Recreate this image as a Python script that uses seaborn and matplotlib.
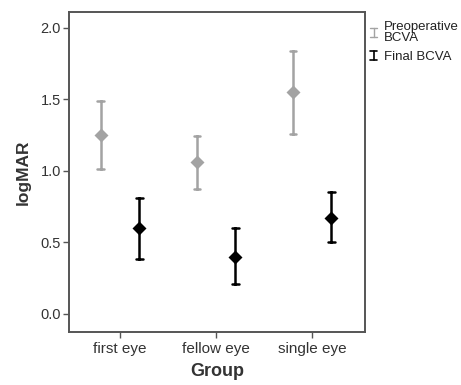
import numpy as np
import pandas as pd
import matplotlib
matplotlib.use("Agg")
import matplotlib.pyplot as plt
import seaborn as sns
from matplotlib.legend_handler import HandlerBase
from matplotlib.lines import Line2D

groups = ["first eye", "fellow eye", "single eye"]
series = ["Preoperative\nBCVA", "Final BCVA"]
pre_mean = [1.25, 1.06, 1.55]
pre_lo = [1.01, 0.87, 1.26]
pre_hi = [1.49, 1.24, 1.84]
fin_mean = [0.60, 0.40, 0.67]
fin_lo = [0.38, 0.21, 0.50]
fin_hi = [0.81, 0.60, 0.85]
yticks = [0.0, 0.5, 1.0, 1.5, 2.0]

rows = []
for s, (m, lo, hi) in zip(series, [(pre_mean, pre_lo, pre_hi), (fin_mean, fin_lo, fin_hi)]):
    for g, a, b, c in zip(groups, lo, m, hi):
        for v in (a, b, c):
            rows.append({"Group": g, "Series": s, "logMAR": v})
df = pd.DataFrame(rows)

sns.set_style("white")
plt.rcParams["font.family"] = ["Liberation Sans", "DejaVu Sans"]

fig = plt.figure(figsize=(4.61, 3.85), dpi=100)
ax = fig.add_axes([0.150, 0.138, 0.642, 0.831])

colors = ["#a3a3a3", "#000000"]
sns.pointplot(data=df, x="Group", y="logMAR", hue="Series", order=groups,
              hue_order=series, estimator="median", errorbar=("pi", 100),
              palette=colors, markers=["D", "D"], linestyle="none",
              dodge=0.4, capsize=0.07, markersize=5,
              err_kws={"linewidth": 1.8}, legend=False, ax=ax)

ax.set_xlim(-0.53, 2.55)
ax.set_ylim(-0.126, 2.11)
ax.set_yticks(yticks)
ax.set_yticklabels([f"{t:.1f}" for t in yticks])
for sp in ax.spines.values():
    sp.set_visible(True)
    sp.set_color("#555555")
    sp.set_linewidth(1.4)
ax.tick_params(axis="both", which="both", direction="out", length=4, width=1,
               color="#555555", labelcolor="#333333", bottom=True, left=True)
ax.tick_params(axis="x", labelsize=11, pad=3)
ax.tick_params(axis="y", labelsize=10.5, pad=2)
ax.set_xlabel("Group", fontsize=13, fontweight="bold", color="#333333", labelpad=5)
ax.set_ylabel("logMAR", fontsize=12.5, fontweight="bold", color="#333333", labelpad=7)


class HandlerIBeam(HandlerBase):
    def create_artists(self, legend, orig_handle, xdescent, ydescent, width, height, fontsize, trans):
        cx = width / 2 - xdescent
        y0 = -ydescent
        y1 = height - ydescent
        c = orig_handle.get_color()
        lw = orig_handle.get_linewidth()
        arts = [Line2D([cx, cx], [y0, y1], color=c, lw=lw),
                Line2D([cx - 2.5, cx + 2.5], [y0, y0], color=c, lw=lw),
                Line2D([cx - 2.5, cx + 2.5], [y1, y1], color=c, lw=lw)]
        for a in arts:
            a.set_transform(trans)
        return arts


handles = [Line2D([], [], color=colors[0], lw=1.0), Line2D([], [], color=colors[1], lw=1.2)]
leg = fig.legend(handles, series, loc="upper left", bbox_to_anchor=(0.791, 0.958),
                 frameon=False, fontsize=9.5, handlelength=0.6, handletextpad=0.45,
                 labelspacing=0.5, borderaxespad=0,
                 handler_map={Line2D: HandlerIBeam()})
for t in leg.get_texts():
    t.set_color("#222222")
    t.set_linespacing(0.85)

fig.savefig("out.png", dpi=100)
